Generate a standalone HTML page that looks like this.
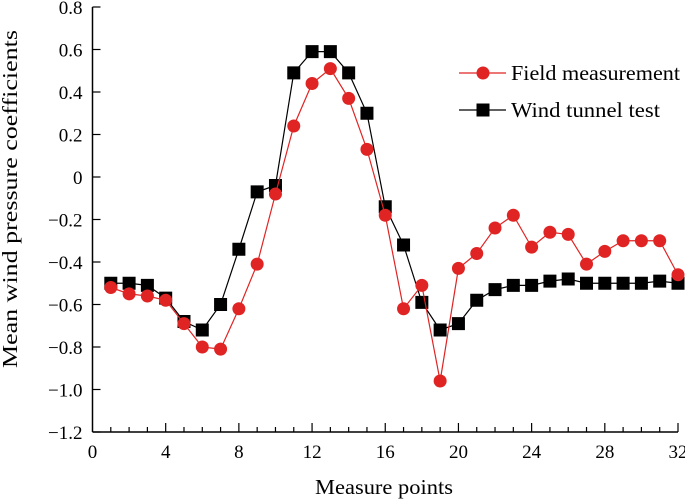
<!DOCTYPE html>
<html><head><meta charset="utf-8"><style>
body{margin:0;background:#fff}
svg{display:block;font-family:"Liberation Serif",serif}
</style></head><body>
<svg id="chart" width="685" height="502" viewBox="0 0 685 502"></svg>
<script>
const xTicks=[0,4,8,12,16,20,24,28,32];
const yTicks=[0.8,0.6,0.4,0.2,0,-0.2,-0.4,-0.6,-0.8,-1.0,-1.2];
const yTickLabels=["0.8","0.6","0.4","0.2","0","−0.2","−0.4","−0.6","−0.8","−1.0","−1.2"];
const points=[1,2,3,4,5,6,7,8,9,10,11,12,13,14,15,16,17,18,19,20,21,22,23,24,25,26,27,28,29,30,31,32];
const fieldValues=[-0.52,-0.55,-0.56,-0.58,-0.69,-0.80,-0.81,-0.62,-0.41,-0.08,0.24,0.44,0.51,0.37,0.13,-0.18,-0.62,-0.51,-0.96,-0.43,-0.36,-0.24,-0.18,-0.33,-0.26,-0.27,-0.41,-0.35,-0.30,-0.30,-0.30,-0.46];
const tunnelValues=[-0.50,-0.50,-0.51,-0.57,-0.68,-0.72,-0.60,-0.34,-0.07,-0.04,0.49,0.59,0.59,0.49,0.30,-0.14,-0.32,-0.59,-0.72,-0.69,-0.58,-0.53,-0.51,-0.51,-0.49,-0.48,-0.50,-0.50,-0.50,-0.50,-0.49,-0.50];
const NS="http://www.w3.org/2000/svg";
const svg=document.getElementById('chart');
const X0=92.5,X1=678,Y0=432,Y1=7;
const xs=v=>X0+(v-0)/32*(X1-X0);
const ys=v=>Y0-(v+1.2)/2.0*(Y0-Y1);
function mk(t,a,p){const e=document.createElementNS(NS,t);for(const k in a)e.setAttribute(k,a[k]);(p||svg).appendChild(e);return e;}
const axes=mk('g',{});


const xl=mk('line',{x1:X0,y1:Y0,x2:X1,y2:Y0,stroke:'#000','stroke-width':1.5},axes);


const yl=mk('line',{x1:X0,y1:Y0,x2:X0,y2:Y1,stroke:'#000','stroke-width':1.5},axes);


for(let i=1;i<=32;i++){const major=i%4===0;const t=mk('line',{x1:xs(i),y1:Y0,x2:xs(i),y2:Y0-(major?9:5),stroke:'#000','stroke-width':1.2},axes);

}
xTicks.forEach(v=>{const t=mk('text',{x:xs(v),y:Y0+26,'text-anchor':'middle','font-size':19},axes);t.textContent=String(v);

});
yTicks.forEach((v,i)=>{const t=mk('line',{x1:X0,y1:ys(v),x2:X0+8,y2:ys(v),stroke:'#000','stroke-width':1.2},axes);


const l=mk('text',{x:X0-10,y:ys(v)+7,'text-anchor':'end','font-size':19},axes);l.textContent=yTickLabels[i];

});
const xt=mk('text',{x:384,y:494,'text-anchor':'middle','font-size':21,textLength:138,lengthAdjust:'spacingAndGlyphs'});xt.textContent='Measure points';


const yt=mk('text',{x:0,y:0,'text-anchor':'middle','font-size':21,textLength:338,lengthAdjust:'spacingAndGlyphs',transform:'translate(17,199) rotate(-90)'});yt.textContent='Mean wind pressure coefficients';


function series(vals,color,shape,name){const g=mk('g',{});


mk('polyline',{points:vals.map((v,i)=>xs(points[i])+','+ys(v)).join(' '),fill:'none',stroke:color,'stroke-width':1.2},g);
vals.forEach((v,i)=>{let m;if(shape==='c')m=mk('circle',{cx:xs(points[i]),cy:ys(v),r:6.5,fill:color},g);else m=mk('rect',{x:xs(points[i])-6.5,y:ys(v)-6.5,width:13,height:13,fill:color},g);

});}
series(tunnelValues,'#000','s','wind-tunnel-series');
series(fieldValues,'#e02424','c','field-series');
const lg=mk('g',{});


mk('line',{x1:459,y1:73,x2:506,y2:73,stroke:'#e02424','stroke-width':1.2},lg);
mk('circle',{cx:483,cy:73,r:6.5,fill:'#e02424'},lg);
const t1=mk('text',{x:511,y:80,'font-size':21,textLength:169,lengthAdjust:'spacingAndGlyphs'},lg);t1.textContent='Field measurement';


mk('line',{x1:459,y1:110,x2:506,y2:110,stroke:'#000','stroke-width':1.2},lg);
mk('rect',{x:476.5,y:103.5,width:13,height:13,fill:'#000'},lg);
const t2=mk('text',{x:511,y:117,'font-size':21,textLength:149,lengthAdjust:'spacingAndGlyphs'},lg);t2.textContent='Wind tunnel test';


</script>
</body></html>
